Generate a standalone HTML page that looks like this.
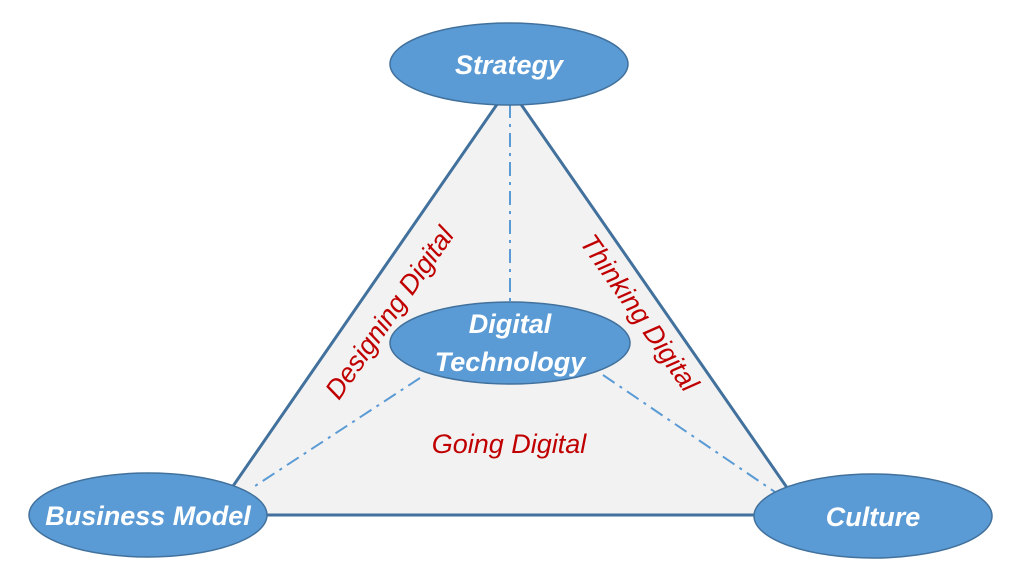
<!DOCTYPE html>
<html><head><style>body{margin:0;background:#fff}</style></head><body>
<svg width="1029" height="577" viewBox="0 0 1029 577" xmlns="http://www.w3.org/2000/svg" font-family="Liberation Sans, sans-serif">
<polygon points="500,100 518,100 806,515 213,515" fill="#f2f2f2" stroke="#41719c" stroke-width="3"/>
<g stroke="#5b9bd5" stroke-width="2" stroke-dasharray="14,6,3,6" fill="none">
<line x1="510" y1="104" x2="510" y2="302"/>
<line x1="420" y1="378" x2="252" y2="488"/>
<line x1="603" y1="375" x2="775" y2="492"/>
</g>
<g fill="#5b9bd5" stroke="#41719c" stroke-width="1.5">
<ellipse cx="509" cy="64" rx="119" ry="41"/>
<ellipse cx="510" cy="343" rx="120" ry="41"/>
<ellipse cx="148" cy="515" rx="119" ry="42"/>
<ellipse cx="873" cy="516" rx="119" ry="42"/>
</g>
<g fill="#fff" font-weight="bold" font-style="italic" font-size="27" text-anchor="middle">
<text x="509" y="74">Strategy</text>
<text x="510" y="333">Digital</text>
<text x="510" y="371">Technology</text>
<text x="148" y="525">Business Model</text>
<text x="873" y="526">Culture</text>
</g>
<g fill="#c00000" font-style="italic" font-size="27" text-anchor="middle">
<text transform="translate(397,318) rotate(-55)">Designing Digital</text>
<text transform="translate(632,318) rotate(55)">Thinking Digital</text>
<text x="509" y="453">Going Digital</text>
</g>
</svg>
</body></html>
